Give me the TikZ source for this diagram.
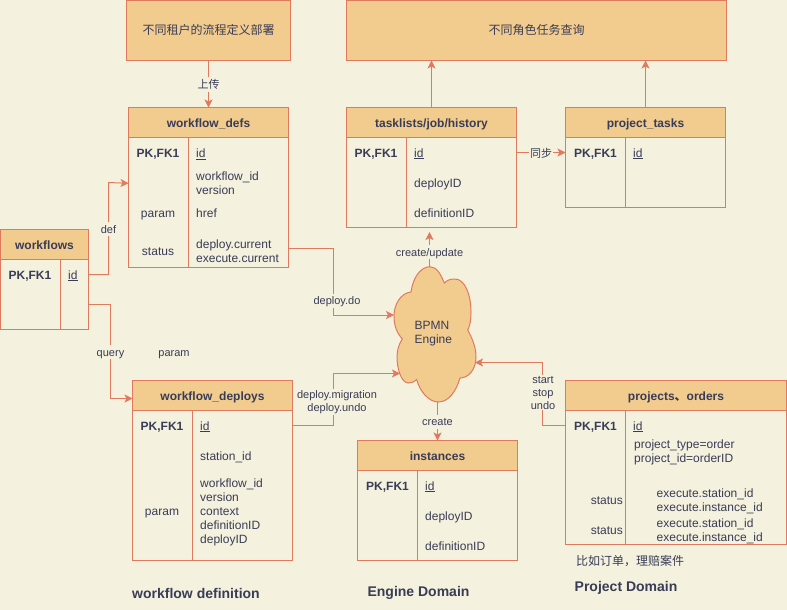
\documentclass[tikz,border=0pt]{standalone}
\usepackage{fontspec}
\setmainfont{Liberation Sans}
\newfontfamily\cjk{Noto Sans CJK SC}
\usetikzlibrary{arrows.meta}
\definecolor{pagecol}{HTML}{F4F1DE}
\definecolor{linecol}{HTML}{E07A5F}
\definecolor{fillcol}{HTML}{F2CC8F}
\definecolor{textcol}{HTML}{393C56}
\tikzset{
  box/.style={draw=linecol,line width=1pt,outer sep=0pt,inner sep=0pt,anchor=north west},
  tablehead/.style={box,fill=fillcol,text=textcol,font=\fontsize{12}{14}\selectfont\bfseries,minimum height=30pt,text height=11pt,text depth=2pt},
  tablebody/.style={box},
  cell/.style={text=textcol,font=\fontsize{12}{14}\selectfont,inner sep=0pt,align=left,anchor=west,text height=11pt,text depth=2pt},
  cellines/.style={text=textcol,font=\fontsize{12}{14}\selectfont,inner sep=0pt,align=left,anchor=west,yshift=-0.8pt},
  keycell/.style={cell,font=\fontsize{12}{14}\selectfont\bfseries,anchor=center},
  tagcell/.style={cell,anchor=center},
  caption/.style={cell,font=\fontsize{14}{16}\selectfont\bfseries,text height=12pt,text depth=2pt},
  link/.style={draw=linecol,line width=1pt,-{Stealth[length=8pt,width=8pt,inset=2pt]}},
  linklines/.style={text=textcol,font=\fontsize{11}{13}\selectfont,fill=pagecol,inner sep=1pt,align=center,yshift=-0.5pt},
  linktext/.style={linklines,yshift=0pt,text height=10pt,text depth=2pt},
}
\begin{document}
\begin{tikzpicture}[x=1pt,y=-1pt]
   \fill[pagecol] (0,0) rectangle (787,610);
   \useasboundingbox (0,0) rectangle (787,610);
   % top boxes
   \node[tablehead,font=\fontsize{12}{14}\selectfont\cjk,minimum width=164pt,minimum height=60pt] (tenantbox) at (126.5,0.5) {不同租户的流程定义部署};
   \node[tablehead,font=\fontsize{12}{14}\selectfont\cjk,minimum width=380pt,minimum height=60pt] (rolebox) at (346.5,0.5) {不同角色任务查询};
   % workflow_defs
   \node[tablehead,minimum width=160pt] (defshead) at (128.5,107.5) {workflow\_defs};
   \node[tablebody,minimum width=160pt,minimum height=130pt] (defsbody) at (defshead.south west) {};
   \draw[linecol,line width=1pt] (188.5,137.5) -- (188.5,267.5);
   \node[keycell] (defskey) at (158,153) {PK,FK1};
   \node[cell] (defsid) at (196,153) {\underline{id}};
   \node[cellines] (defsver) at (196,182.5) {workflow\_id\\version};
   \node[tagcell] (defsparam) at (158,213) {param};
   \node[cell] (defshref) at (196,213) {href};
   \node[tagcell] (defsstatus) at (158,251) {status};
   \node[cellines] (defsstate) at (196,250.2) {deploy.current\\execute.current};
   % workflows
   \node[tablehead,minimum width=88pt] (flowshead) at (0.5,229.5) {workflows};
   \node[tablebody,minimum width=88pt,minimum height=70pt] (flowsbody) at (flowshead.south west) {};
   \draw[linecol,line width=1pt] (60.5,259.5) -- (60.5,329.5);
   \node[keycell] (flowskey) at (30,274.5) {PK,FK1};
   \node[cell] (flowsid) at (68,274.5) {\underline{id}};
   % tasklists
   \node[tablehead,minimum width=170pt] (taskhead) at (346.5,107.5) {tasklists/job/history};
   \node[tablebody,minimum width=170pt,minimum height=90pt] (taskbody) at (taskhead.south west) {};
   \draw[linecol,line width=1pt] (406.5,137.5) -- (406.5,227.5);
   \node[keycell] (taskkey) at (376,152.5) {PK,FK1};
   \node[cell] (taskid) at (414,152.5) {\underline{id}};
   \node[cell] (taskdeploy) at (414,182.5) {deployID};
   \node[cell] (taskdef) at (414,212.5) {definitionID};
   % project_tasks
   \node[tablehead,minimum width=160pt] (ptaskhead) at (565.5,107.5) {project\_tasks};
   \node[tablebody,minimum width=160pt,minimum height=70pt] (ptaskbody) at (ptaskhead.south west) {};
   \draw[linecol,line width=1pt] (625.5,137.5) -- (625.5,207.5);
   \node[keycell] (ptaskkey) at (595.5,152.5) {PK,FK1};
   \node[cell] (ptaskid) at (633,152.5) {\underline{id}};
   % workflow_deploys
   \node[tablehead,minimum width=160pt] (deployhead) at (132.5,380.5) {workflow\_deploys};
   \node[tablebody,minimum width=160pt,minimum height=150pt] (deploybody) at (deployhead.south west) {};
   \draw[linecol,line width=1pt] (192.5,410.5) -- (192.5,560.5);
   \node[keycell] (deploykey) at (162,425.5) {PK,FK1};
   \node[cell] (deployid) at (200,425.5) {\underline{id}};
   \node[cell] (deploystation) at (200,455.5) {station\_id};
   \node[tagcell] (deployparam) at (162,511) {param};
   \node[cellines] (deployargs) at (200,512) {workflow\_id\\version\\context\\definitionID\\deployID};
   % instances
   \node[tablehead,minimum width=160pt] (insthead) at (357.5,440.5) {instances};
   \node[tablebody,minimum width=160pt,minimum height=90pt] (instbody) at (insthead.south west) {};
   \draw[linecol,line width=1pt] (417.5,470.5) -- (417.5,560.5);
   \node[keycell] (instkey) at (387.5,485.5) {PK,FK1};
   \node[cell] (instid) at (425,485.5) {\underline{id}};
   \node[cell] (instdeploy) at (425,515.5) {deployID};
   \node[cell] (instdef) at (425,545.5) {definitionID};
   % projects
   \node[tablehead,minimum width=221pt] (projhead) at (565.5,380.5) {projects{\cjk 、}orders};
   \node[tablebody,minimum width=221pt,minimum height=133.5pt] (projbody) at (projhead.south west) {};
   \draw[linecol,line width=1pt] (625.5,410.5) -- (625.5,544);
   \node[keycell] (projkey) at (595.5,425.5) {PK,FK1};
   \node[cell] (projid) at (633,425.5) {\underline{id}};
   \node[cellines] (projtype) at (634,452) {project\_type=order\\project\_id=orderID};
   \node[cell,anchor=east] (projstatusa) at (623,500) {status};
   \node[cellines] (projexeca) at (656.5,501) {execute.station\_id\\execute.instance\_id};
   \node[cell,anchor=east] (projstatusb) at (623,530) {status};
   \node[cellines] (projexecb) at (656.5,531) {execute.station\_id\\execute.instance\_id};
   % cloud
   \draw[fill=fillcol,draw=linecol,line width=1pt] (411,292) .. controls (413,277) and (421,266.7) .. (430,266.7)
      .. controls (437,266.7) and (441,275) .. (444.3,283) .. controls (448,279.5) and (451,279) .. (455,279)
      .. controls (465,279) and (471,295) .. (471,312) .. controls (471,320) and (470,326) .. (467.7,330)
      .. controls (472,338) and (476,347) .. (476,357) .. controls (476,370) and (468,378) .. (460,378)
      .. controls (456,392) and (448,402) .. (438.5,402) .. controls (429,402) and (420,392) .. (416.7,379.5)
      .. controls (414,382) and (411,383) .. (408.5,383) .. controls (401,383) and (397,368) .. (397,357)
      .. controls (397,350) and (399,344) .. (402.3,339) .. controls (397,333) and (394,326) .. (394,316)
      .. controls (394,304) and (401,293) .. (411,292);
   \node[cellines] (engine) at (414.5,332.5) {BPMN\\Engine};
   \coordinate (enginetop) at (429.5,267);
   \coordinate (enginebottom) at (437.5,402);
   \coordinate (engineleft) at (394,315);
   \coordinate (enginelow) at (400,373.5);
   \coordinate (engineright) at (475,362.5);
   \coordinate (taskgap) at (429.5,232);
   % connectors
   \draw[link] (tenantbox.south) -- node[linktext] (uploadlabel) {\cjk 上传} (defshead.north);
   \draw[link] (taskhead.north) -- (rolebox.south -| taskhead.north);
   \draw[link] (ptaskhead.north) -- (rolebox.south -| ptaskhead.north);
   \draw[link] (taskbody.east |- taskid) -- node[linktext] (synclabel) {\cjk 同步} (ptaskbody.west |- ptaskid);
   \draw[link] (flowsbody.east |- flowsid) -- (108.5,274.5) -- node[linktext] (deflabel) {def} (108.5,182.5) -- (defsbody.west |- defsver);
   \draw[link] (flowsbody.east |- 0,304.5) -- (110.5,304.5) -- node[linktext] (querylabel) {query} (110.5,398.5) -- (deployhead.west |- 0,398.5);
   \draw[link] (defsbody.east |- 0,248) -- (333.5,248) -- (333.5,315) -- (engineleft);
   \node[linktext] (dolabel) at (337,300) {deploy.do};
   \draw[link] (deploybody.east |- deployid) -- (333.5,425.5) -- (333.5,373.5) -- (enginelow);
   \node[linklines] (undolabel) at (337,401.5) {deploy.migration\\deploy.undo};
   \draw[link] (enginetop) -- node[linktext,pos=.43] (updatelabel) {create/update} (taskgap);
   \draw[link] (enginebottom) -- node[linktext] (createlabel) {create} (insthead.north);
   \draw[link] (projbody.west |- projkey) -- (542,425.5) -- (542,362.5) -- (engineright);
   \node[linklines] (startlabel) at (543,392) {start\\stop\\undo};
   % loose texts
   \node[linktext,fill=none] (looseparam) at (174,352) {param};
   \node[cell] (casenote) at (576,561) {\cjk 比如订单，理赔案件};
   \node[caption] (defdomain) at (132,593) {workflow definition};
   \node[caption,anchor=center] (enginedomain) at (418.5,591) {Engine Domain};
   \node[caption] (projdomain) at (574.5,586) {Project Domain};
\end{tikzpicture}
\end{document}
